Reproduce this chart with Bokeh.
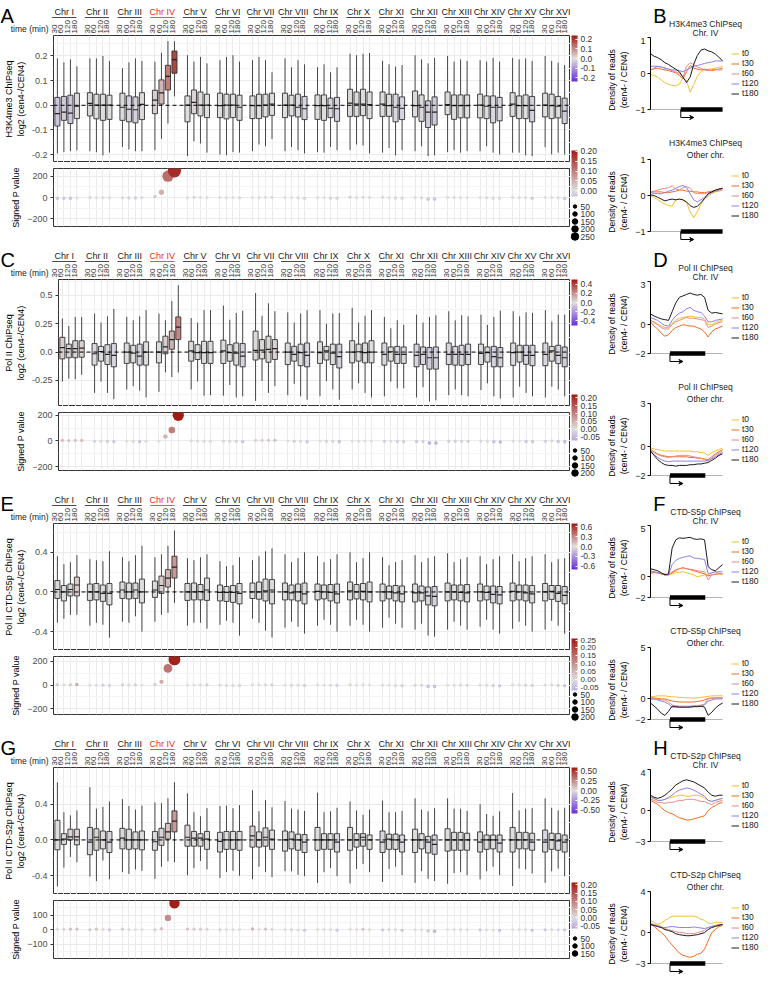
import math
from bokeh.plotting import figure
from bokeh.layouts import row, column
from bokeh.models import (ColumnDataSource, Range1d, FixedTicker, LinearColorMapper, ColorBar,
                          Span, Legend, LegendItem, Arrow, VeeHead, PrintfTickFormatter,
                          Title, AllLabels)
from bokeh.transform import dodge
from bokeh.core.properties import value
from bokeh.embed import file_html
from bokeh.resources import INLINE

FONT = "Liberation Sans"

chromosomes = ["Chr I", "Chr II", "Chr III", "Chr IV", "Chr V", "Chr VI", "Chr VII", "Chr VIII",
               "Chr IX", "Chr X", "Chr XI", "Chr XII", "Chr XIII", "Chr XIV", "Chr XV", "Chr XVI"]
times = ["30", "60", "120", "180"]
highlight = "Chr IV"

# ---------------- panel A : H3K4me3 ----------------
a_hi = [0.190,0.174,0.186,0.158, 0.190,0.190,0.200,0.180, 0.150,0.174,0.190,0.180, 0.177,0.213,0.260,0.260,
        0.203,0.177,0.196,0.170, 0.183,0.196,0.203,0.177, 0.183,0.196,0.183,0.134, 0.190,0.154,0.183,0.166,
        0.154,0.166,0.134,0.154, 0.209,0.203,0.209,0.212, 0.180,0.166,0.157,0.163, 0.203,0.186,0.170,0.192,
        0.200,0.177,0.186,0.180, 0.183,0.177,0.192,0.177, 0.192,0.186,0.190,0.180, 0.200,0.180,0.173,0.163]
a_q3 = [0.032,0.036,0.041,0.049, 0.051,0.045,0.045,0.041, 0.049,0.038,0.034,0.051, 0.061,0.103,0.162,0.220,
        0.038,0.062,0.054,0.045, 0.049,0.045,0.045,0.041, 0.038,0.045,0.045,0.049, 0.049,0.041,0.045,0.036,
        0.042,0.042,0.029,0.032, 0.065,0.054,0.065,0.054, 0.054,0.045,0.045,0.034, 0.058,0.042,0.018,0.034,
        0.054,0.042,0.042,0.042, 0.045,0.038,0.038,0.032, 0.051,0.038,0.042,0.036, 0.049,0.045,0.036,0.029]
a_med = [-0.034,-0.028,-0.032,-0.003, 0.008,0.001,0.001,0.001, -0.008,-0.016,-0.018,0.004, 0.021,0.050,0.117,0.185,
         0.001,0.012,0.001,0.001, -0.001,0.001,0.001,-0.008, -0.001,-0.001,0.001,0.005, 0.001,0.001,-0.008,-0.014,
         -0.001,-0.001,-0.012,-0.014, 0.009,0.005,0.005,0.003, 0.005,-0.001,-0.008,-0.012, -0.001,-0.008,-0.028,-0.028,
         0.003,-0.001,-0.001,-0.001, 0.001,-0.004,-0.008,-0.008, 0.005,-0.001,-0.001,-0.021, 0.001,-0.001,-0.004,-0.024]
a_q1 = [-0.084,-0.061,-0.074,-0.054, -0.043,-0.055,-0.061,-0.057, -0.061,-0.067,-0.071,-0.058, -0.034,0.005,0.062,0.130,
        -0.067,-0.034,-0.043,-0.050, -0.050,-0.055,-0.050,-0.061, -0.054,-0.054,-0.047,-0.041, -0.050,-0.043,-0.047,-0.058,
        -0.057,-0.061,-0.050,-0.065, -0.045,-0.045,-0.042,-0.054, -0.045,-0.045,-0.067,-0.058, -0.047,-0.065,-0.090,-0.080,
        -0.038,-0.057,-0.051,-0.051, -0.051,-0.054,-0.071,-0.063, -0.045,-0.054,-0.054,-0.067, -0.047,-0.054,-0.051,-0.074]
a_lo = [-0.195,-0.190,-0.186,-0.183, -0.186,-0.190,-0.203,-0.192, -0.169,-0.179,-0.186,-0.186, -0.182,-0.136,-0.074,0.036,
        -0.206,-0.146,-0.155,-0.192, -0.199,-0.202,-0.190,-0.192, -0.186,-0.159,-0.166,-0.137, -0.186,-0.169,-0.182,-0.195,
        -0.190,-0.192,-0.169,-0.182, -0.182,-0.159,-0.163,-0.195, -0.192,-0.173,-0.203,-0.182, -0.186,-0.166,-0.206,-0.203,
        -0.190,-0.182,-0.192,-0.186, -0.186,-0.166,-0.192,-0.199, -0.192,-0.192,-0.203,-0.206, -0.170,-0.199,-0.192,-0.199]
a_p = [-8,-7,-8,-3, 1,-1,-2,-2, -3,-4,-5,0, 10,50,200,250, -2,2,0,-1, -1,-2,-1,-3, 0,0,1,2, 1,-1,-3,-6,
       -1,-2,-5,-6, 3,1,2,1, 1,-2,-5,-6, 1,-3,-15,-15, 2,-1,-1,-1, -1,-2,-6,-6, 2,-2,-2,-8, 0,-1,-3,-10]

# ---------------- panel C : Pol II ----------------
c_hi = [0.295,0.23,0.31,0.31, 0.34,0.26,0.315,0.38, 0.31,0.28,0.315,0.37, 0.34,0.28,0.45,0.59,
        0.30,0.26,0.37,0.37, 0.41,0.285,0.345,0.365, 0.52,0.32,0.43,0.36, 0.35,0.26,0.34,0.37,
        0.37,0.25,0.34,0.345, 0.39,0.26,0.32,0.37, 0.31,0.21,0.28,0.24, 0.33,0.26,0.31,0.325,
        0.36,0.28,0.325,0.315, 0.33,0.24,0.31,0.365, 0.36,0.315,0.35,0.345, 0.37,0.27,0.33,0.33]
c_q3 = [0.13,0.07,0.10,0.10, 0.075,0.05,0.065,0.075, 0.08,0.06,0.07,0.09, 0.09,0.14,0.185,0.31,
        0.095,0.065,0.095,0.095, 0.105,0.065,0.08,0.075, 0.185,0.11,0.14,0.11, 0.08,0.05,0.07,0.08,
        0.09,0.05,0.07,0.07, 0.10,0.07,0.08,0.10, 0.08,0.045,0.05,0.045, 0.07,0.045,0.04,0.045,
        0.08,0.05,0.06,0.07, 0.07,0.045,0.05,0.04, 0.08,0.06,0.06,0.06, 0.08,0.05,0.06,0.045]
c_med = [0.04,0.03,0.03,0.035, -0.015,0.005,-0.02,-0.03, 0.0,-0.01,-0.035,0.0, 0.0,0.045,0.11,0.22,
         0.01,-0.005,-0.005,-0.005, 0.01,-0.005,-0.01,-0.035, 0.015,0.018,0.023,0.03, 0.0,-0.02,-0.005,-0.03,
         -0.005,0.01,-0.01,-0.04, 0.0,0.003,-0.005,0.0, -0.02,0.003,-0.02,-0.02, -0.03,-0.02,-0.05,-0.05,
         -0.02,-0.02,-0.02,-0.02, -0.012,-0.005,-0.04,-0.05, -0.005,0.0,-0.03,-0.03, -0.02,0.01,-0.03,-0.05]
c_q1 = [-0.06,-0.05,-0.05,-0.045, -0.115,-0.08,-0.11,-0.13, -0.10,-0.095,-0.115,-0.115, -0.095,-0.015,0.025,0.11,
        -0.08,-0.065,-0.10,-0.10, -0.10,-0.08,-0.115,-0.13, -0.07,-0.06,-0.09,-0.065, -0.11,-0.08,-0.12,-0.13,
        -0.10,-0.07,-0.11,-0.14, -0.095,-0.08,-0.095,-0.095, -0.115,-0.08,-0.10,-0.10, -0.13,-0.11,-0.15,-0.15,
        -0.11,-0.115,-0.117,-0.11, -0.11,-0.088,-0.13,-0.13, -0.117,-0.088,-0.108,-0.12, -0.12,-0.08,-0.102,-0.13]
c_lo = [-0.26,-0.235,-0.24,-0.20, -0.36,-0.26,-0.36,-0.415, -0.33,-0.30,-0.34,-0.40, -0.35,-0.18,-0.22,-0.18,
        -0.33,-0.26,-0.385,-0.38, -0.385,-0.29,-0.40,-0.39, -0.43,-0.255,-0.36,-0.30, -0.38,-0.28,-0.39,-0.42,
        -0.39,-0.255,-0.33,-0.42, -0.33,-0.275,-0.36,-0.40, -0.39,-0.26,-0.32,-0.32, -0.40,-0.31,-0.435,-0.425,
        -0.38,-0.33,-0.38,-0.39, -0.335,-0.275,-0.39,-0.41, -0.40,-0.305,-0.36,-0.39, -0.40,-0.305,-0.33,-0.39]
c_p = [5,3,4,4, -3,-2,-4,-5, -1,-3,-5,-3, 0,35,85,200, 1,-1,-2,-2, -1,-2,-4,-5, 4,5,5,5, -1,-3,-3,-5,
       -1,-2,-3,-6, 0,-1,-1,0, -3,-1,-4,-5, -4,-4,-15,-15, -2,-2,-3,-3, -1,-1,-6,-8, -1,0,-4,-5, -3,1,-4,-6]

# ---------------- panel E : Pol II CTD-S5p ----------------
e_hi = [0.36,0.28,0.30,0.37, 0.33,0.32,0.31,0.41, 0.35,0.31,0.37,0.465, 0.35,0.38,0.465,0.62,
        0.34,0.32,0.35,0.38, 0.31,0.26,0.27,0.35, 0.32,0.36,0.41,0.44, 0.38,0.30,0.34,0.40,
        0.36,0.30,0.33,0.38, 0.40,0.30,0.34,0.40, 0.35,0.27,0.30,0.32, 0.37,0.30,0.34,0.36,
        0.39,0.30,0.33,0.35, 0.36,0.28,0.33,0.36, 0.38,0.31,0.34,0.36, 0.38,0.30,0.33,0.34]
e_q3 = [0.115,0.065,0.08,0.15, 0.08,0.085,0.07,0.085, 0.10,0.09,0.09,0.13, 0.11,0.16,0.225,0.36,
        0.085,0.09,0.075,0.14, 0.07,0.055,0.065,0.085, 0.09,0.10,0.13,0.125, 0.09,0.07,0.08,0.09,
        0.08,0.07,0.075,0.08, 0.10,0.075,0.085,0.10, 0.08,0.06,0.065,0.06, 0.08,0.06,0.05,0.055,
        0.09,0.07,0.07,0.075, 0.08,0.06,0.06,0.055, 0.09,0.07,0.07,0.065, 0.085,0.065,0.065,0.055]
e_med = [0.025,0.0,0.025,0.07, 0.0,0.0,-0.015,-0.015, 0.02,0.0,0.02,0.0, 0.02,0.065,0.14,0.25,
         0.0,0.0,0.003,0.02, -0.005,-0.005,-0.005,-0.015, 0.0,0.0,0.01,0.02, 0.0,-0.01,0.0,-0.02,
         0.005,0.0,-0.005,-0.02, 0.01,0.0,0.005,0.0, 0.0,0.0,-0.01,-0.02, -0.01,-0.01,-0.04,-0.045,
         0.0,0.0,-0.005,-0.01, 0.0,-0.005,-0.025,-0.03, 0.005,0.0,-0.01,-0.02, 0.0,0.005,-0.015,-0.035]
e_q1 = [-0.065,-0.09,-0.04,-0.04, -0.085,-0.08,-0.095,-0.13, -0.065,-0.07,-0.065,-0.11, -0.055,-0.015,0.05,0.14,
        -0.085,-0.08,-0.08,-0.085, -0.09,-0.095,-0.105,-0.12, -0.066,-0.073,-0.09,-0.12, -0.08,-0.08,-0.09,-0.12,
        -0.08,-0.07,-0.09,-0.11, -0.08,-0.07,-0.08,-0.10, -0.09,-0.07,-0.09,-0.10, -0.10,-0.09,-0.13,-0.14,
        -0.09,-0.08,-0.09,-0.10, -0.09,-0.08,-0.11,-0.12, -0.09,-0.08,-0.09,-0.11, -0.09,-0.075,-0.095,-0.12]
e_lo = [-0.31,-0.27,-0.23,-0.23, -0.34,-0.31,-0.33,-0.46, -0.30,-0.31,-0.245,-0.40, -0.30,-0.23,-0.21,-0.11,
        -0.34,-0.31,-0.31,-0.37, -0.33,-0.29,-0.31,-0.44, -0.27,-0.31,-0.39,-0.46, -0.36,-0.30,-0.35,-0.42,
        -0.34,-0.28,-0.33,-0.40, -0.34,-0.28,-0.33,-0.40, -0.36,-0.26,-0.32,-0.36, -0.38,-0.32,-0.44,-0.45,
        -0.38,-0.30,-0.34,-0.38, -0.35,-0.28,-0.38,-0.42, -0.37,-0.30,-0.34,-0.40, -0.38,-0.29,-0.34,-0.42]
e_p = [3,2,3,5, -1,-1,-2,-4, 2,1,2,0, 5,27,140,215, 0,0,1,2, -2,-3,-3,-4, 1,1,2,2, -1,-2,-1,-4,
       0,-1,-2,-4, 1,0,1,0, -1,-1,-3,-4, -2,-2,-12,-12, 0,-1,-1,-2, -1,-1,-5,-6, 1,0,-2,-3, -1,1,-3,-6]

# ---------------- panel G : Pol II CTD-S2p ----------------
g_hi = [0.645,0.31,0.275,0.33, 0.59,0.35,0.37,0.43, 0.455,0.38,0.34,0.385, 0.42,0.41,0.465,0.645,
        0.52,0.31,0.265,0.355, 0.38,0.385,0.355,0.39, 0.555,0.32,0.445,0.365, 0.435,0.35,0.34,0.325,
        0.53,0.31,0.32,0.36, 0.43,0.33,0.28,0.34, 0.44,0.31,0.31,0.325, 0.465,0.34,0.32,0.355,
        0.465,0.35,0.35,0.325, 0.40,0.29,0.27,0.32, 0.525,0.33,0.35,0.355, 0.465,0.36,0.33,0.36]
g_q3 = [0.22,0.07,0.12,0.12, 0.14,0.125,0.10,0.095, 0.13,0.12,0.09,0.10, 0.095,0.13,0.185,0.325,
        0.165,0.095,0.07,0.095, 0.085,0.095,0.095,0.095, 0.155,0.09,0.135,0.11, 0.10,0.09,0.065,0.06,
        0.14,0.07,0.07,0.07, 0.14,0.07,0.07,0.055, 0.10,0.065,0.065,0.055, 0.12,0.07,0.04,0.055,
        0.125,0.085,0.085,0.075, 0.09,0.055,0.055,0.055, 0.14,0.085,0.085,0.075, 0.11,0.075,0.07,0.055]
g_med = [0.0,0.01,0.035,0.035, -0.025,0.03,0.0,-0.025, 0.02,0.0,0.0,0.0, -0.02,0.03,0.09,0.21,
         0.03,0.02,0.02,0.01, -0.015,0.0,0.0,0.0, 0.045,0.0,0.03,0.01, 0.0,0.01,0.0,-0.025,
         0.0,0.0,0.0,-0.025, 0.0,0.0,0.03,0.0, -0.025,0.01,0.0,-0.025, 0.0,0.0,-0.025,-0.05,
         0.0,0.0,0.0,0.0, -0.025,0.0,0.0,-0.035, 0.0,0.0,0.0,-0.025, -0.025,0.0,-0.01,-0.025]
g_q1 = [-0.11,-0.05,0.0,-0.055, -0.165,-0.115,-0.10,-0.14, -0.10,-0.105,-0.10,-0.11, -0.115,-0.06,0.01,0.09,
        -0.07,-0.07,-0.07,-0.105, -0.135,-0.105,-0.105,-0.115, -0.08,-0.08,-0.07,-0.105, -0.125,-0.10,-0.115,-0.14,
        -0.115,-0.105,-0.105,-0.135, -0.115,-0.08,-0.07,-0.105, -0.14,-0.105,-0.105,-0.135, -0.14,-0.10,-0.145,-0.16,
        -0.125,-0.115,-0.115,-0.115, -0.135,-0.105,-0.10,-0.135, -0.135,-0.10,-0.10,-0.115, -0.135,-0.105,-0.115,-0.135]
g_lo = [-0.52,-0.31,-0.19,-0.25, -0.41,-0.46,-0.23,-0.44, -0.36,-0.38,-0.33,-0.345, -0.435,-0.30,-0.24,-0.25,
        -0.395,-0.315,-0.235,-0.33, -0.425,-0.36,-0.345,-0.40, -0.44,-0.30,-0.36,-0.415, -0.35,-0.35,-0.39,-0.405,
        -0.48,-0.36,-0.315,-0.405, -0.485,-0.325,-0.27,-0.36, -0.47,-0.325,-0.30,-0.395, -0.48,-0.35,-0.435,-0.46,
        -0.49,-0.37,-0.36,-0.395, -0.44,-0.35,-0.30,-0.395, -0.515,-0.32,-0.33,-0.375, -0.48,-0.35,-0.32,-0.405]
g_p = [2,1,3,3, -2,2,0,-3, 2,0,0,0, -3,5,80,180, 3,2,2,1, -2,-1,-1,-1, 4,1,3,1, -1,-2,-3,-6,
       0,0,-1,-5, 1,0,1,-1, -3,-1,-1,-5, -2,-2,-10,-12, 0,-1,-1,-2, -3,-2,-4,-6, 0,-1,-1,-5, -2,-1,-2,-3]

# ---------------- profile panels (B, D, F, H) ----------------
prof_x = [0.0, 0.05, 0.1, 0.15, 0.2, 0.25, 0.3, 0.35, 0.4, 0.45, 0.5,
          0.55, 0.6, 0.65, 0.7, 0.75, 0.8, 0.85, 0.9, 0.95, 1.0]
t_labels = ["t0", "t30", "t60", "t120", "t180"]
t_colors = ["#f2c12e", "#f26b1d", "#ea8a8a", "#8c80ee", "#1a1a1a"]

b_chr4 = {
    "t0":   [-0.02,-0.06,-0.10,-0.18,-0.25,-0.30,-0.33,-0.35,-0.30,-0.12,-0.20,-0.52,-0.30,-0.08,0.05,0.10,0.12,0.13,0.15,0.17,0.20],
    "t30":  [0.10,0.13,0.15,0.12,0.10,0.08,0.05,0.02,-0.05,-0.15,0.05,0.22,0.15,0.12,0.10,0.12,0.10,0.08,0.10,0.12,0.15],
    "t60":  [0.10,0.15,0.20,0.18,0.15,0.12,0.08,0.05,0.00,-0.10,0.20,0.30,0.25,0.18,0.15,0.10,0.08,0.10,0.12,0.10,0.10],
    "t120": [0.20,0.20,0.20,0.18,0.15,0.12,0.10,0.10,0.08,0.05,0.10,0.15,0.20,0.22,0.25,0.28,0.30,0.32,0.35,0.35,0.35],
    "t180": [0.55,0.48,0.44,0.38,0.30,0.25,0.18,0.12,0.05,-0.10,-0.25,-0.10,0.26,0.50,0.65,0.68,0.63,0.60,0.54,0.45,0.35],
}
b_other = {
    "t0":   [0.00,-0.05,-0.12,-0.18,-0.24,-0.28,-0.30,-0.12,-0.10,-0.12,-0.20,-0.45,-0.62,-0.45,-0.25,-0.10,-0.02,0.05,0.10,0.12,0.15],
    "t30":  [0.10,0.10,0.10,0.10,0.08,0.08,0.10,0.12,0.15,0.15,0.12,0.12,0.10,0.10,0.08,0.08,0.10,0.12,0.15,0.18,0.20],
    "t60":  [0.10,0.12,0.15,0.18,0.20,0.22,0.27,0.18,0.15,0.22,0.25,0.20,0.08,0.05,0.05,0.05,0.08,0.10,0.12,0.15,0.15],
    "t120": [0.08,0.06,0.05,0.05,0.08,0.12,0.15,0.20,0.25,0.28,0.22,0.05,-0.12,-0.18,-0.12,-0.05,0.03,0.08,0.12,0.15,0.20],
    "t180": [0.02,0.00,-0.05,-0.10,-0.15,-0.12,-0.10,-0.12,-0.10,-0.12,-0.18,-0.28,-0.33,-0.30,-0.20,-0.08,0.05,0.10,0.15,0.18,0.20],
}
d_chr4 = {
    "t0":   [0.3,0.2,0.05,-0.1,-0.2,-0.2,0.1,0.3,0.45,0.5,0.55,0.6,0.55,0.5,0.5,0.4,0.0,0.0,0.15,0.25,0.3],
    "t30":  [0.2,-0.1,-0.3,-0.6,-0.8,-0.7,-0.4,-0.2,-0.1,0.0,-0.05,-0.1,-0.1,-0.2,-0.3,-0.5,-0.85,-0.5,-0.3,-0.2,-0.1],
    "t60":  [0.3,0.15,0.0,-0.2,-0.3,-0.3,0.0,0.2,0.3,0.4,0.5,0.45,0.45,0.4,0.35,0.3,-0.2,-0.1,0.05,0.15,0.2],
    "t120": [0.5,0.4,0.3,0.1,-0.05,-0.1,0.3,0.6,0.8,0.9,1.1,1.2,1.0,0.9,0.85,0.6,0.2,0.2,0.3,0.35,0.4],
    "t180": [0.75,0.6,0.5,0.4,0.35,0.3,0.9,1.5,1.9,2.0,2.1,2.2,2.1,2.05,2.1,1.9,1.0,0.8,0.85,0.8,0.75],
}
d_other = {
    "t0":   [-0.1,-0.15,-0.2,-0.25,-0.3,-0.3,-0.3,-0.3,-0.3,-0.3,-0.3,-0.3,-0.35,-0.35,-0.4,-0.45,-0.6,-0.4,-0.3,-0.2,-0.1],
    "t30":  [-0.2,-0.35,-0.5,-0.6,-0.65,-0.7,-0.7,-0.7,-0.7,-0.7,-0.7,-0.75,-0.75,-0.8,-0.8,-0.85,-0.9,-0.7,-0.5,-0.35,-0.2],
    "t60":  [-0.2,-0.4,-0.55,-0.65,-0.7,-0.75,-0.7,-0.65,-0.6,-0.6,-0.6,-0.65,-0.7,-0.75,-0.8,-0.9,-1.0,-0.8,-0.6,-0.45,-0.3],
    "t120": [-0.3,-0.55,-0.75,-0.9,-1.0,-1.05,-1.0,-1.0,-1.0,-1.0,-1.0,-1.0,-1.0,-1.0,-1.0,-1.0,-0.95,-0.85,-0.7,-0.55,-0.4],
    "t180": [-0.3,-0.6,-0.9,-1.1,-1.25,-1.3,-1.3,-1.35,-1.3,-1.3,-1.3,-1.25,-1.25,-1.2,-1.2,-1.15,-1.1,-0.95,-0.8,-0.6,-0.5],
}
f_chr4 = {
    "t0":   [0.3,0.4,0.4,0.3,0.2,0.2,0.3,0.4,0.45,0.5,0.4,0.3,0.2,0.0,0.1,0.2,0.2,0.4,0.5,0.4,0.2],
    "t30":  [0.5,0.45,0.4,0.3,0.3,0.2,0.4,0.6,0.8,0.9,0.8,0.7,0.6,0.5,0.4,0.3,0.1,0.2,0.25,0.3,0.3],
    "t60":  [0.4,0.45,0.4,0.3,0.2,0.2,0.5,0.7,0.8,0.85,0.8,0.75,0.7,0.6,0.55,0.5,-0.3,0.2,0.3,0.3,0.3],
    "t120": [0.6,0.5,0.45,0.3,0.2,0.2,1.2,1.6,1.8,1.9,2.0,2.05,1.85,1.8,1.75,1.7,0.3,0.4,0.5,0.5,0.5],
    "t180": [0.8,0.7,0.6,0.4,0.2,0.3,2.8,3.6,3.8,3.75,3.8,3.85,3.7,3.65,3.7,3.6,1.0,0.7,0.6,0.9,1.2],
}
f_other = {
    "t0":   [0.2,0.25,0.3,0.3,0.3,0.25,0.2,0.2,0.15,0.15,0.1,0.1,0.1,0.1,0.15,0.2,0.25,0.3,0.3,0.3,0.3],
    "t30":  [0.1,0.1,0.05,0.0,0.0,-0.1,-0.2,-0.25,-0.3,-0.3,-0.3,-0.3,-0.3,-0.25,-0.2,-0.1,0.05,0.1,0.1,0.1,0.1],
    "t60":  [0.0,0.0,-0.05,-0.1,-0.1,-0.3,-0.6,-0.65,-0.7,-0.7,-0.7,-0.7,-0.65,-0.65,-0.6,-0.5,0.0,0.05,0.1,0.1,0.1],
    "t120": [0.0,0.0,-0.1,-0.2,-0.3,-0.5,-0.8,-0.8,-0.8,-0.8,-0.8,-0.75,-0.75,-0.7,-0.7,-0.6,-0.2,-0.1,0.0,0.0,0.0],
    "t180": [-0.4,-0.7,-1.0,-1.4,-1.6,-1.2,-0.7,-0.75,-0.8,-0.8,-0.8,-0.8,-0.75,-0.75,-0.7,-0.8,-1.6,-1.3,-0.9,-0.6,-0.4],
}
h_chr4 = {
    "t0":   [1.3,1.1,1.0,1.0,1.1,1.2,1.3,1.4,1.5,1.5,1.4,1.4,1.5,1.5,1.4,1.2,1.0,0.9,1.0,1.1,1.2],
    "t30":  [1.0,0.8,0.6,0.3,0.0,-0.2,-0.3,-0.5,-0.7,-0.8,-0.9,-0.9,-0.8,-0.7,-0.6,-0.5,0.0,0.3,0.5,0.7,0.8],
    "t60":  [1.1,1.0,0.8,0.8,0.7,0.8,0.8,0.9,1.0,1.0,1.1,1.1,1.1,1.0,0.9,0.9,0.7,0.6,0.8,0.9,1.0],
    "t120": [1.3,1.2,1.0,1.0,1.1,1.3,1.5,1.8,2.0,2.1,2.2,2.15,2.0,1.8,1.6,1.4,1.0,0.9,1.0,1.1,1.2],
    "t180": [1.5,1.3,1.2,1.3,1.5,1.8,2.1,2.5,2.7,2.9,3.0,2.9,2.8,2.6,2.4,2.2,1.8,1.5,1.4,1.5,1.5],
}
h_other = {
    "t0":   [1.2,1.0,0.8,0.9,1.2,1.4,1.6,1.6,1.6,1.6,1.6,1.6,1.6,1.5,1.3,1.2,0.9,0.9,1.0,1.0,1.0],
    "t30":  [0.8,0.6,0.3,0.0,-0.3,-0.8,-1.2,-1.6,-2.0,-2.2,-2.3,-2.4,-2.3,-2.1,-2.0,-1.6,-0.8,0.0,0.3,0.6,0.7],
    "t60":  [0.9,0.8,0.7,0.6,0.4,0.3,0.2,0.1,0.0,0.0,-0.1,-0.1,-0.1,0.0,0.1,0.2,0.5,0.6,0.7,0.8,0.8],
    "t120": [0.8,0.7,0.6,0.5,0.5,0.55,0.6,0.55,0.5,0.5,0.5,0.5,0.55,0.5,0.45,0.4,0.5,0.6,0.7,0.75,0.8],
    "t180": [0.8,0.7,0.6,0.5,0.3,0.2,0.1,-0.1,-0.2,-0.25,-0.3,-0.3,-0.25,-0.2,-0.1,0.0,0.3,0.5,0.6,0.7,0.8],
}
gene_b = (0.42, 1.0)      # TSS, end of gene body (B)
gene_dfh = (0.27, 0.76)   # TSS, TES (D, F, H)

# ---------------- layout constants ----------------
LB, FW = 50, 520
LW = LB + FW
GW = 34
HH, BH, DH, DGAP, DBOT = 35, 127, 82, 6, 18
TOT = HH + BH + DH
RW, RL = 156, 40
RS = 37                      # header strip: panel letter + two title lines
RH1 = 85                     # top profile figure (frame only)
RH2, RT2 = 122, 37           # bottom profile figure
RFW = 76                     # width of the profile data area
XEXT = (RW - RL) / RFW       # frame also holds the legend on its right
XLO, XHI = -0.6, 78.9
BWID = 0.78

LOWC, MIDC, HIGHC = (104, 46, 214), (222, 222, 222), (160, 26, 20)


def mix(c1, c2, t):
    return "#%02x%02x%02x" % tuple(int(round(a + (b - a) * t)) for a, b in zip(c1, c2))


def grad2(v, lim):
    t = max(-1.0, min(1.0, v / lim))
    return mix(MIDC, HIGHC, t) if t >= 0 else mix(MIDC, LOWC, -t)


def palette(lo, hi, lim):
    return [grad2(lo + (hi - lo) * i / 255.0, lim) for i in range(256)]


def style_yaxis(ax, size="9px"):
    ax.major_label_text_font = FONT
    ax.major_label_text_font_size = size
    ax.major_label_text_color = "#4d4d4d"
    ax.axis_label_text_font = FONT
    ax.axis_label_text_font_size = "9px"
    ax.axis_label_text_font_style = "normal"
    ax.axis_label_text_color = "black"
    ax.axis_label_standoff = 3
    ax.major_label_standoff = 2
    ax.axis_line_color = None
    ax.major_tick_line_color = "#333333"
    ax.major_tick_out = 3
    ax.major_tick_in = 0
    ax.minor_tick_line_color = None


def base_fig(**kw):
    return figure(toolbar_location=None, output_backend="svg", **kw)


def blank_fig(width, height, xr, yr):
    return base_fig(width=width, height=height, x_range=xr, y_range=yr, x_axis_type=None,
                    y_axis_type=None, min_border_left=0, min_border_right=0, min_border_top=0,
                    min_border_bottom=0, outline_line_color=None, title=None)


def make_left(cfg):
    xr = Range1d(XLO, XHI)
    x_pos = [g * 5 + t for g in range(len(chromosomes)) for t in range(len(times))]
    centers = [g * 5 + 1.5 for g in range(len(chromosomes))]

    # header corner: panel letter and "time (min)"
    hl = blank_fig(LB, HH, Range1d(0, LB), Range1d(0, HH))
    hl.text(x=[0], y=[HH - 15], text=[cfg["letter"]], text_baseline="alphabetic",
            text_font=value(FONT), text_font_size="20px", text_color="black")
    hl.text(x=[LB - 2], y=[7], text=["time (min)"], text_align="right", text_baseline="middle",
            text_font=value(FONT), text_font_size="8.5px", text_color="#1a1a1a")

    # header: chromosome names and time labels
    hd = blank_fig(FW, HH, xr, Range1d(0, HH))
    hsrc = ColumnDataSource(dict(x=centers, text=chromosomes,
                                 color=["#e8291c" if c == highlight else "#1a1a1a" for c in chromosomes]))
    hd.text(x="x", y=24, text="text", text_color="color", source=hsrc, text_align="center",
            text_baseline="middle", text_font=value(FONT), text_font_size="9px")
    hd.segment(x0=dodge("x", -1.85), y0=18, x1=dodge("x", 1.85), y1=18, source=hsrc,
               line_color="color", line_width=0.8)
    tsrc = ColumnDataSource(dict(x=x_pos, text=times * len(chromosomes)))
    hd.text(x="x", y=2, text="text", source=tsrc, angle=math.pi / 2, text_align="left",
            text_baseline="middle", text_font=value(FONT), text_font_size="8px", text_color="#333333")

    # box plot
    bmap = LinearColorMapper(palette=palette(-cfg["blim"], cfg["blim"], cfg["blim"]),
                             low=-cfg["blim"], high=cfg["blim"])
    src = ColumnDataSource(dict(x=x_pos, lo=cfg["lo"], q1=cfg["q1"], med=cfg["med"],
                                q3=cfg["q3"], hi=cfg["hi"]))
    bx = base_fig(width=LW, height=BH, x_range=xr, y_range=Range1d(*cfg["yr"]), x_axis_location=None,
                  min_border_left=LB, min_border_right=0, min_border_top=0, min_border_bottom=0,
                  outline_line_color="#333333", y_axis_label=cfg["ylabel"], title=None)
    bx.xgrid.ticker = FixedTicker(ticks=x_pos)
    bx.xgrid.grid_line_color = "#ebebeb"
    bx.ygrid.grid_line_color = "#ebebeb"
    bx.ygrid.minor_grid_line_color = "#f4f4f4"
    ax = bx.yaxis[0]
    ax.ticker = FixedTicker(ticks=cfg["yt"], minor_ticks=cfg["ymt"])
    ax.formatter = PrintfTickFormatter(format=cfg["yfmt"])
    if cfg.get("yover"):
        ax.major_label_overrides = cfg["yover"]
    style_yaxis(ax)
    bx.segment(x0="x", y0="lo", x1="x", y1="hi", source=src, line_color="#333333", line_width=0.9)
    bx.vbar(x="x", width=BWID, bottom="q1", top="q3", source=src,
            fill_color={"field": "med", "transform": bmap}, line_color="#333333", line_width=0.9)
    bx.segment(x0=dodge("x", -BWID / 2), y0="med", x1=dodge("x", BWID / 2), y1="med", source=src,
               line_color="#222222", line_width=1.2)
    bx.add_layout(Span(location=0, dimension="width", line_color="black", line_dash="4 3", line_width=1))

    # signed P value dots
    dmap = LinearColorMapper(palette=palette(cfg["dlim"][0], cfg["dlim"][1],
                                             max(abs(cfg["dlim"][0]), abs(cfg["dlim"][1]))),
                             low=cfg["dlim"][0], high=cfg["dlim"][1])
    order = sorted(range(len(x_pos)), key=lambda i: abs(cfg["p"][i]))
    dsrc = ColumnDataSource(dict(x=[x_pos[i] for i in order], p=[cfg["p"][i] for i in order],
                                 med=[cfg["med"][i] for i in order],
                                 size=[3.2 + 0.04 * abs(cfg["p"][i]) for i in order]))
    dt = base_fig(width=LW, height=DH, x_range=xr, y_range=Range1d(*cfg["pr"]), x_axis_location=None,
                  min_border_left=LB, min_border_right=0, min_border_top=DGAP, min_border_bottom=DBOT,
                  outline_line_color="#333333", y_axis_label="Signed P value", title=None)
    dt.xgrid.ticker = FixedTicker(ticks=x_pos)
    dt.xgrid.grid_line_color = "#ebebeb"
    dt.ygrid.grid_line_color = "#ebebeb"
    dt.ygrid.minor_grid_line_color = "#f4f4f4"
    ax = dt.yaxis[0]
    ax.ticker = FixedTicker(ticks=cfg["pt"], minor_ticks=cfg["pmt"])
    style_yaxis(ax)
    dt.scatter(x="x", y="p", size="size", source=dsrc,
               fill_color={"field": "med", "transform": dmap}, line_color=None)

    # legends column
    lg = blank_fig(GW, TOT, Range1d(0, GW), Range1d(TOT, 0))
    cb_common = dict(orientation="vertical", width=6, height=46, padding=0, label_standoff=3,
                     major_label_text_font=FONT, major_label_text_font_size="8.5px",
                     major_label_text_color="#333333", major_tick_line_color="white",
                     major_tick_in=2, major_tick_out=0, bar_line_color=None,
                     border_line_color=None, background_fill_alpha=0,
                     major_label_policy=AllLabels())
    lg.add_layout(ColorBar(color_mapper=bmap, ticker=FixedTicker(ticks=cfg["bcb"]),
                           formatter=PrintfTickFormatter(format=cfg["bcbfmt"]),
                           location=(1, TOT - HH - 46), **cb_common))
    dcb = dict(cb_common)
    if len(cfg["dcb"]) > 6:
        dcb["height"] = 52
        dcb["major_label_text_font_size"] = "8px"
    lg.add_layout(ColorBar(color_mapper=dmap, ticker=FixedTicker(ticks=cfg["dcb"]),
                           formatter=PrintfTickFormatter(format="%.2f"),
                           location=(1, TOT - 150 - dcb["height"]), **dcb))
    keys = cfg["skeys"]
    ksrc = ColumnDataSource(dict(y=[206 + 7.5 * i for i in range(len(keys))],
                                 size=[3.5 + 1.0 * i for i in range(len(keys))],
                                 text=[str(k) for k in keys]))
    lg.scatter(x=4.5, y="y", size="size", source=ksrc, color="black")
    lg.text(x=10, y="y", text="text", source=ksrc, text_baseline="middle", text_font=value(FONT),
            text_font_size="8.5px", text_color="#333333")

    return row(column(row(hl, hd), bx, dt), lg)


def make_right(line1, line2, ylim, series, gene, height, top):
    ylo, yhi = ylim
    span = yhi - ylo
    ext = ylo - span * 13.0 / 72.0
    f = base_fig(width=RW, height=height, x_range=Range1d(0, XEXT), y_range=Range1d(ext, yhi),
                 x_axis_location=None, min_border_left=RL, min_border_right=0, min_border_top=top,
                 min_border_bottom=0, outline_line_color=None, title=None,
                 y_axis_label="Density of reads\n(cen4- / CEN4)")
    if line1:
        for txt in (line2, line1):
            f.add_layout(Title(text=txt, align="center", offset=-20, text_font=FONT, text_font_size="8.5px",
                               text_font_style="normal", text_color="#1a1a1a", standoff=0), "above")
    f.grid.visible = False
    ax = f.yaxis[0]
    ax.ticker = FixedTicker(ticks=[ylo, 0, yhi])
    ax.bounds = (ylo, yhi)
    style_yaxis(ax)
    ax.axis_label_text_font_size = "8.5px"
    ax.major_label_text_color = "#1a1a1a"
    ax.axis_line_color = "black"
    ax.major_tick_line_color = "black"
    tss, tes = gene
    f.segment(x0=0, y0=ylo, x1=1, y1=ylo, line_color="#b5b5b5", line_width=1)
    f.segment(x0=tss, y0=ylo, x1=tes, y1=ylo, line_color="black", line_width=4.5, line_cap="butt")
    dy = span * 8.0 / 72.0
    f.segment(x0=tss, y0=ylo, x1=tss, y1=ylo - dy, line_color="black", line_width=1)
    f.add_layout(Arrow(end=VeeHead(size=4, line_color="black", line_width=1, fill_color="black"),
                       x_start=tss, y_start=ylo - dy, x_end=tss + 0.18, y_end=ylo - dy,
                       line_color="black", line_width=1))
    items = []
    for name, col in zip(t_labels, t_colors):
        r = f.line(prof_x, series[name], line_color=col, line_width=1)
        items.append(LegendItem(label=name, renderers=[r]))
    leg = Legend(items=items, location=(RFW + 5, 24), glyph_width=8, glyph_height=9,
                 label_height=9, label_standoff=3, spacing=0, padding=0, margin=0,
                 border_line_color=None, background_fill_alpha=0,
                 label_text_font=FONT, label_text_font_size="8.5px", label_text_color="#1a1a1a")
    f.add_layout(leg)
    return f


def make_strip(letter, line1, line2):
    s = blank_fig(RW, RS, Range1d(0, RW), Range1d(0, RS))
    s.text(x=[RL - 36], y=[RS - 15], text=[letter], text_baseline="alphabetic", text_font=value(FONT),
           text_font_size="20px", text_color="black")
    s.text(x=[RL + RFW / 2, RL + RFW / 2], y=[RS - 23, RS - 32], text=[line1, line2], text_align="center",
           text_baseline="middle", text_font=value(FONT), text_font_size="8.5px", text_color="#1a1a1a")
    return s


panels = [
    dict(letter="A", ylabel="H3K4me3 ChIPseq\nlog2 (cen4-/CEN4)",
         lo=a_lo, q1=a_q1, med=a_med, q3=a_q3, hi=a_hi, p=a_p,
         yr=(-0.232, 0.283), yt=[-0.2, -0.1, 0.0, 0.1, 0.2], ymt=[-0.15, -0.05, 0.05, 0.15, 0.25], yfmt="%.1f",
         blim=0.24, bcb=[-0.2, -0.1, 0.0, 0.1, 0.2], bcbfmt="%.1f",
         pr=(-272, 272), pt=[-200, 0, 200], pmt=[-100, 100],
         dlim=(-0.03, 0.205), dcb=[0.0, 0.05, 0.1, 0.15, 0.2], skeys=[50, 100, 150, 200, 250]),
    dict(letter="C", ylabel="Pol II ChIPseq\nlog2 (cen4-/CEN4)",
         lo=c_lo, q1=c_q1, med=c_med, q3=c_q3, hi=c_hi, p=c_p,
         yr=(-0.48, 0.64), yt=[-0.25, 0.0, 0.25, 0.5], ymt=[-0.375, -0.125, 0.125, 0.375, 0.625], yfmt="%.2f",
         yover={0.5: "0.5", 0.0: "0.0"},
         blim=0.5, bcb=[-0.4, -0.2, 0.0, 0.2, 0.4], bcbfmt="%.1f",
         pr=(-230, 222), pt=[-200, 0, 200], pmt=[-100, 100],
         dlim=(-0.07, 0.22), dcb=[-0.05, 0.0, 0.05, 0.1, 0.15, 0.2], skeys=[50, 100, 150, 200]),
    dict(letter="E", ylabel="Pol II CTD-S5p ChIPseq\nlog2 (cen4-/CEN4)",
         lo=e_lo, q1=e_q1, med=e_med, q3=e_q3, hi=e_hi, p=e_p,
         yr=(-0.59, 0.69), yt=[-0.4, 0.0, 0.4], ymt=[-0.2, 0.2, 0.6], yfmt="%.1f",
         blim=0.7, bcb=[-0.6, -0.3, 0.0, 0.3, 0.6], bcbfmt="%.1f",
         pr=(-248, 240), pt=[-200, 0, 200], pmt=[-100, 100],
         dlim=(-0.07, 0.26), dcb=[-0.05, 0.0, 0.05, 0.1, 0.15, 0.2, 0.25], skeys=[50, 100, 150, 200]),
    dict(letter="G", ylabel="Pol II CTD-S2p ChIPseq\nlog2 (cen4-/CEN4)",
         lo=g_lo, q1=g_q1, med=g_med, q3=g_q3, hi=g_hi, p=g_p,
         yr=(-0.61, 0.81), yt=[-0.4, 0.0, 0.4], ymt=[-0.2, 0.2, 0.6], yfmt="%.1f",
         blim=0.6, bcb=[-0.5, -0.25, 0.0, 0.25, 0.5], bcbfmt="%.2f",
         pr=(-200, 200), pt=[-100, 0, 100], pmt=[-150, -50, 50, 150],
         dlim=(-0.065, 0.215), dcb=[-0.05, 0.0, 0.05, 0.1, 0.15, 0.2], skeys=[50, 100, 150]),
]

rights = [
    ("B", "H3K4me3 ChIPseq", (-1, 1), b_chr4, b_other, gene_b),
    ("D", "Pol II ChIPseq", (-2, 3), d_chr4, d_other, gene_dfh),
    ("F", "CTD-S5p ChIPseq", (-2, 5), f_chr4, f_other, gene_dfh),
    ("H", "CTD-S2p ChIPseq", (-3, 4), h_chr4, h_other, gene_dfh),
]

rows = []
for cfg, (letter, name, ylim, s4, so, gene) in zip(panels, rights):
    left = make_left(cfg)
    strip = make_strip(letter, name, "Chr. IV")
    top = make_right(None, None, ylim, s4, gene, RH1, 0)
    bot = make_right(name, "Other chr.", ylim, so, gene, RH2, RT2)
    rows.append(row(left, column(strip, top, bot)))

layout = column(*rows)
open("out.html", "w").write(file_html(layout, INLINE))
